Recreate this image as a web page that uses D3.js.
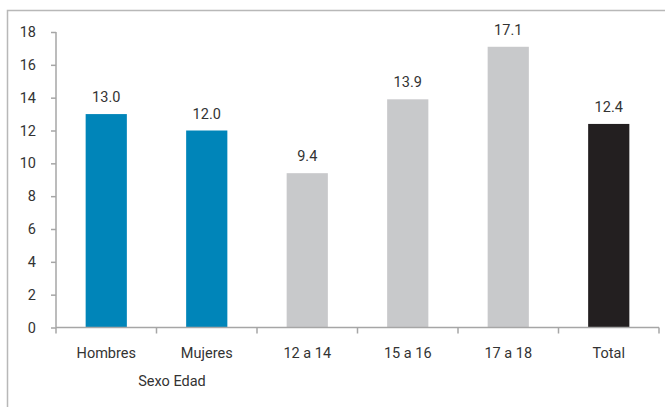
<!DOCTYPE html>
<html><head><meta charset="utf-8">
<script src="https://cdn.jsdelivr.net/npm/d3@7"></script>
<style>body{margin:0;background:#fff}svg{display:block}text{font-family:Roboto,"DejaVu Sans",sans-serif;fill:#333}</style>
</head><body><svg id="c" width="665" height="407"></svg>
<script>
const categories = ["Hombres","Mujeres","12 a 14","15 a 16","17 a 18","Total"];
const values = [13.0, 12.0, 9.4, 13.9, 17.1, 12.4];
const groups = ["sexo","sexo","edad","edad","edad","total"];
const yTicks = [0,2,4,6,8,10,12,14,16,18];
const groupLabel = "Sexo Edad";
const colors = {sexo:"#0085b9", edad:"#c8c9cb", total:"#231f20"};
const FS = 14.5;

const svg = d3.select("#c");
svg.append("rect").attr("x",7.5).attr("y",10.5).attr("width",700).attr("height",500)
  .attr("fill","none").attr("stroke","#b8b8b8").attr("stroke-width",1.5);

const x = d3.scaleBand().domain(categories).range([56,659]).paddingInner(0.59).paddingOuter(0.295);
const y = d3.scaleLinear().domain([0,18]).range([327.5,32]);

const yAxis = svg.append("g").attr("transform","translate(56,0)")
  .call(d3.axisLeft(y).tickValues(yTicks).tickSize(5).tickPadding(15).tickFormat(d3.format("d")));
yAxis.select(".domain").attr("d","M0,"+y(18)+"V"+y(0));
yAxis.selectAll("line,path").attr("stroke","#a6a6a6").attr("stroke-width",1.5);
yAxis.selectAll("text").attr("font-size",FS).style("fill","#333").attr("font-family","Roboto");

// bars
svg.selectAll("rect.bar").data(values).enter().append("rect").attr("class","bar")
  .attr("x",(d,i)=>x(categories[i])).attr("width",x.bandwidth())
  .attr("y",d=>y(d)).attr("height",d=>y(0)-y(d))
  .attr("fill",(d,i)=>colors[groups[i]]);

// x axis
const xg = svg.append("g").attr("transform","translate(0,"+y(0)+")");
xg.append("line").attr("x1",56).attr("x2",659).attr("stroke","#a6a6a6").attr("stroke-width",1.5);
d3.range(categories.length+1).forEach(i=>{
  const xx = 56 + i*(603/categories.length);
  xg.append("line").attr("x1",xx).attr("x2",xx).attr("y1",0).attr("y2",6).attr("stroke","#a6a6a6").attr("stroke-width",1.5);
});
xg.selectAll("text.cat").data(categories).enter().append("text").attr("class","cat")
  .attr("x",d=>x(d)+x.bandwidth()/2).attr("y",30).attr("text-anchor","middle").attr("font-size",FS).text(d=>d);

svg.append("text").attr("x",172).attr("y",386).attr("text-anchor","middle").attr("font-size",FS).text(groupLabel);

// value labels
svg.selectAll("text.val").data(values).enter().append("text").attr("class","val")
  .attr("x",(d,i)=>x(categories[i])+x.bandwidth()/2).attr("y",d=>y(d)-12)
  .attr("text-anchor","middle").attr("font-size",FS).text(d=>d3.format(".1f")(d));
</script></body></html>
